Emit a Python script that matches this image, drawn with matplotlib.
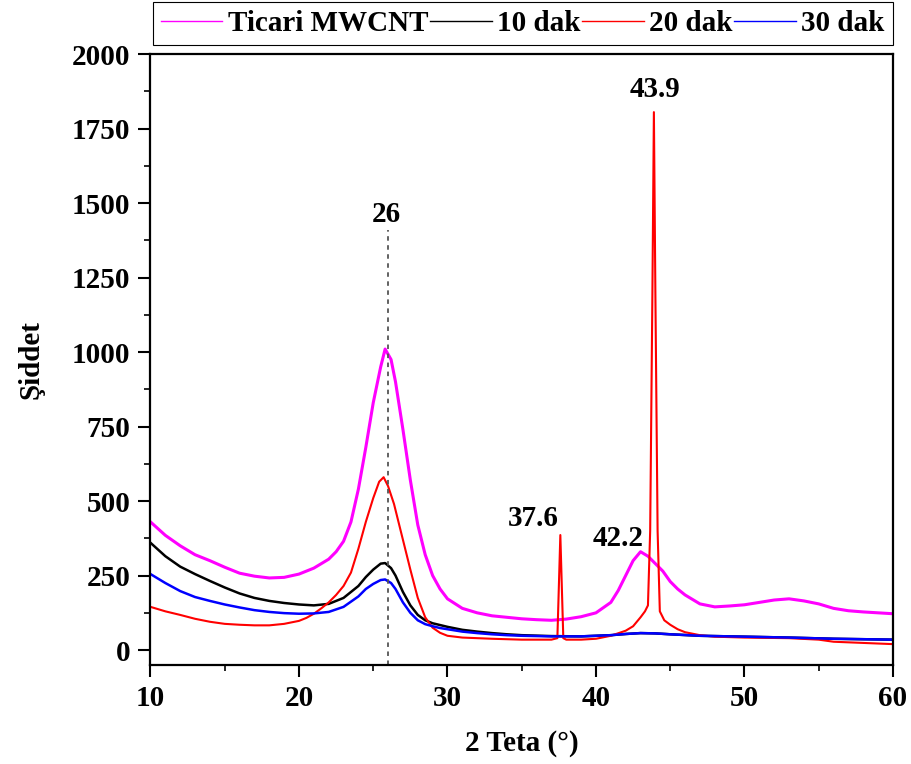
import matplotlib
matplotlib.use("Agg")
import matplotlib.pyplot as plt

plt.rcParams["font.family"] = ["Liberation Serif", "DejaVu Serif"]
plt.rcParams["font.weight"] = "bold"

# ── diffraction patterns (2θ in degrees, intensity) ──────────────────────────
ticari_x = [10, 11, 12, 13, 14, 15, 16, 17, 18, 19, 20, 21, 22, 22.5, 23, 23.5,
            24, 24.5, 25, 25.5, 25.8, 26.2, 26.5, 27, 27.5, 28, 28.5, 29, 29.5,
            30, 31, 32, 33, 34, 35, 36, 37, 38, 39, 40, 41, 41.5, 42, 42.5, 43,
            43.5, 44, 44.5, 45, 45.5, 46, 47, 48, 49, 50, 51, 52, 53, 54, 55,
            56, 57, 58, 59, 60]
ticari_y = [430, 385, 350, 320, 300, 278, 258, 248, 242, 244, 255, 275, 305,
            330, 365, 430, 540, 680, 830, 950, 1010, 975, 900, 740, 570, 420,
            320, 250, 205, 172, 140, 125, 115, 110, 105, 102, 100, 104, 112,
            125, 160, 200, 250, 300, 330, 315, 290, 265, 230, 205, 185, 155,
            145, 148, 152, 160, 168, 172, 165, 155, 140, 132, 128, 125, 122]

dak_x = [10, 11, 12, 13, 14, 15, 16, 17, 18, 19, 20, 21, 22, 23, 24, 24.5, 25,
         25.5, 25.8, 26.2, 26.5, 27, 27.5, 28, 28.5, 29, 29.5, 30, 31, 32, 33,
         34, 35, 37, 39, 41, 42, 43, 44, 45, 47, 50, 53, 56, 60]
dak10_y = [360, 315, 280, 255, 232, 210, 190, 175, 165, 158, 153, 150, 155,
           175, 215, 245, 270, 290, 292, 275, 250, 195, 150, 118, 100, 90, 84,
           78, 68, 62, 57, 53, 50, 47, 46, 50, 54, 57, 56, 53, 48, 45, 42, 38,
           35]
dak30_y = [255, 225, 198, 178, 165, 153, 143, 134, 128, 124, 122, 123, 128,
           145, 180, 205, 222, 235, 237, 225, 205, 160, 125, 100, 87, 80, 74,
           70, 62, 57, 53, 50, 48, 46, 46, 50, 54, 57, 56, 53, 48, 45, 42, 38,
           35]

dak20_x = [10, 11, 12, 13, 14, 15, 16, 17, 18, 19, 20, 20.5, 21, 21.5, 22,
           22.5, 23, 23.5, 24, 24.5, 25, 25.4, 25.7, 26, 26.4, 27, 27.5, 28,
           28.5, 29, 29.5, 30, 31, 33, 35, 37, 37.4, 37.6, 37.8, 38, 39, 40,
           41, 42, 42.5, 43, 43.3, 43.5, 43.65, 43.8, 43.9, 44.0, 44.15, 44.3,
           44.6, 45, 45.5, 46, 47, 48, 50, 53, 55, 56, 58, 60]
dak20_y = [145, 130, 118, 105, 95, 88, 85, 83, 83, 88, 98, 108, 122, 140, 160,
           185, 215, 260, 340, 430, 510, 565, 580, 550, 490, 370, 270, 175,
           110, 75, 58, 48, 42, 38, 35, 35, 40, 386, 40, 35, 35, 38, 48, 65,
           80, 110, 130, 150, 400, 1200, 1805, 1200, 400, 130, 100, 85, 70, 60,
           50, 45, 42, 40, 35, 28, 24, 20]

series = [
    ("Ticari MWCNT", ticari_x, ticari_y, "#ff00ff", 2.2),
    ("10 dak", dak_x, dak10_y, "black", 1.8),
    ("20 dak", dak20_x, dak20_y, "#ff0000", 1.5),
    ("30 dak", dak_x, dak30_y, "#0000ff", 1.8),
]

peak_labels = [("26", 25.9, 1460), ("37.6", 35.8, 442),
               ("42.2", 41.5, 375), ("43.9", 44.0, 1880)]

fig = plt.figure(figsize=(9.11, 7.64), dpi=100)
ax = fig.add_axes([0.1652, 0.1296, 0.8150, 0.7997])

for label, x, y, color, lw in series:
    ax.plot(x, y, color=color, lw=lw, label=label)

ax.plot([26, 26], [-50, 1410], color="#555555", lw=1.3,
        linestyle=(0, (2.5, 2.5)))

for text, x, y in peak_labels:
    ax.text(x, y, text, ha="center", va="center", fontsize=21,
            fontweight="bold")

ax.set_xlim(10, 60)
ax.set_ylim(-50, 2000)
ax.set_xticks(range(10, 61, 10))
ax.set_xticks(range(15, 60, 10), minor=True)
ax.set_yticks(range(0, 2001, 250))
ax.set_yticks(range(125, 2000, 250), minor=True)
ax.tick_params(which="major", direction="out", length=8.5, width=1.5,
               labelsize=21, pad=6)
ax.tick_params(which="minor", direction="out", length=4.5, width=1.2)
for sp in ax.spines.values():
    sp.set_linewidth(1.6)

ax.set_xlabel("2 Teta (°)", fontsize=21, fontweight="bold", labelpad=13)
ax.set_ylabel("Şiddet", fontsize=21, fontweight="bold", labelpad=20)

# legend lines stay thin regardless of the plotted line widths
leg_handles = [plt.Line2D([], [], color=c, lw=1.0) for _, _, _, c, _ in series]
leg = fig.legend(leg_handles, [s[0] for s in series],
                 loc="upper right", bbox_to_anchor=(0.9802, 0.9974),
                 ncol=4, fontsize=21, handlelength=2.1,
                 handletextpad=0.2, columnspacing=0.05, borderpad=0.28,
                 fancybox=False, framealpha=1, borderaxespad=0)
leg.get_frame().set_edgecolor("black")
leg.get_frame().set_linewidth(0.8)

fig.savefig("out.png", dpi=100)
